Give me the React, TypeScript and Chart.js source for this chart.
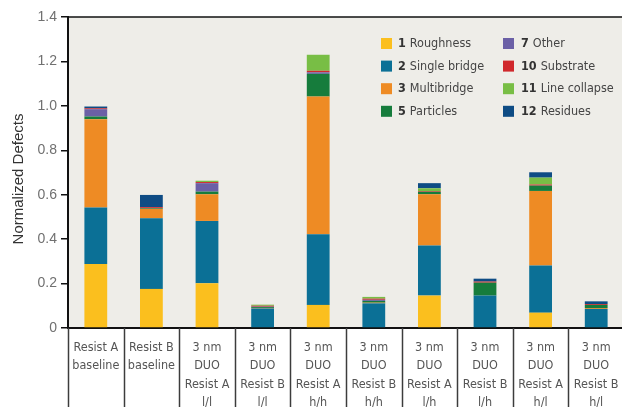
import React, { useEffect, useRef } from 'react';
import { Chart, registerables } from 'chart.js';
Chart.register(...registerables);

const categories: string[][] = [
  ['Resist A', 'baseline'],
  ['Resist B', 'baseline'],
  ['3 nm', 'DUO', 'Resist A', 'l/l'],
  ['3 nm', 'DUO', 'Resist B', 'l/l'],
  ['3 nm', 'DUO', 'Resist A', 'h/h'],
  ['3 nm', 'DUO', 'Resist B', 'h/h'],
  ['3 nm', 'DUO', 'Resist A', 'l/h'],
  ['3 nm', 'DUO', 'Resist B', 'l/h'],
  ['3 nm', 'DUO', 'Resist A', 'h/l'],
  ['3 nm', 'DUO', 'Resist B', 'h/l'],
];

const roughness = [0.288, 0.176, 0.201, 0, 0.104, 0, 0.146, 0, 0.069, 0];
const singleBridge = [0.255, 0.318, 0.281, 0.088, 0.318, 0.111, 0.225, 0.146, 0.212, 0.086];
const multibridge = [0.397, 0.042, 0.12, 0.002, 0.62, 0.003, 0.231, 0, 0.336, 0.004];
const particles = [0.012, 0.003, 0.012, 0.004, 0.102, 0.008, 0.011, 0.058, 0.024, 0.014];
const other = [0.033, 0, 0.038, 0.002, 0.007, 0.005, 0, 0, 0, 0];
const substrate = [0.004, 0.005, 0.005, 0.004, 0.007, 0.005, 0.003, 0.005, 0.005, 0.004];
const lineCollapse = [0, 0, 0.006, 0.005, 0.072, 0.008, 0.013, 0, 0.031, 0];
const residues = [0.008, 0.055, 0, 0, 0, 0, 0.023, 0.013, 0.024, 0.012];

const seriesNumbers = ['1', '2', '3', '5', '7', '10', '11', '12'];
const seriesNames = ['Roughness', 'Single bridge', 'Multibridge', 'Particles', 'Other', 'Substrate', 'Line collapse', 'Residues'];
const seriesValues = [roughness, singleBridge, multibridge, particles, other, substrate, lineCollapse, residues];
const seriesColors = ['#FBBF1E', '#0B7096', '#EE8B24', '#167C3C', '#6B60A6', '#D0282C', '#78BE45', '#0E4C84'];

const yTicks = [0, 0.2, 0.4, 0.6, 0.8, 1.0, 1.2, 1.4];

const NARROW = '"DejaVu Sans Condensed", "Liberation Sans", sans-serif';
const REGULAR = '"Liberation Sans", Arial, sans-serif';

const bgPlugin = {
  id: 'bgPlugin',
  beforeDraw(chart: any) {
    const { ctx, chartArea } = chart;
    ctx.save();
    ctx.fillStyle = '#EEEDE8';
    ctx.fillRect(chartArea.left, chartArea.top, chartArea.right - chartArea.left, chartArea.bottom - chartArea.top);
    ctx.restore();
  },
};

const decorPlugin = {
  id: 'decorPlugin',
  afterDraw(chart: any) {
    const { ctx, chartArea } = chart;
    const xs = chart.scales.x;
    const h = chart.height;
    ctx.save();
    // top border
    ctx.strokeStyle = '#111';
    ctx.lineWidth = 1.6;
    ctx.beginPath();
    ctx.moveTo(chartArea.left, chartArea.top);
    ctx.lineTo(chartArea.right, chartArea.top);
    ctx.stroke();
    // table separators
    const n = categories.length;
    const step = xs.getPixelForValue(1) - xs.getPixelForValue(0);
    ctx.strokeStyle = '#3c3c3c';
    ctx.lineWidth = 1.5;
    for (let i = 0; i <= n; i++) {
      const x = Math.round(xs.getPixelForValue(0) - step / 2 + i * step) + 0.5;
      ctx.beginPath();
      ctx.moveTo(x, chartArea.bottom);
      ctx.lineTo(x, h);
      ctx.stroke();
    }
    // y title
    ctx.fillStyle = '#333';
    ctx.font = `15px ${REGULAR}`;
    ctx.textAlign = 'center';
    ctx.textBaseline = 'middle';
    ctx.translate(19, 179);
    ctx.rotate(-Math.PI / 2);
    ctx.fillText('Normalized Defects', 0, 0);
    ctx.restore();

    // legend
    ctx.save();
    ctx.textBaseline = 'middle';
    ctx.textAlign = 'left';
    const colX = [381, 503];
    const numX = [398, 521];
    for (let i = 0; i < seriesNames.length; i++) {
      const col = i < 4 ? 0 : 1;
      const row = i % 4;
      const cy = 43.5 + row * 22.6;
      ctx.fillStyle = seriesColors[i];
      ctx.fillRect(colX[col], cy - 5.5, 11, 11);
      ctx.font = `bold 12.5px ${NARROW}`;
      ctx.fillStyle = '#333';
      ctx.fillText(seriesNumbers[i], numX[col], cy + 0.5);
      const w = ctx.measureText(seriesNumbers[i]).width + 4;
      ctx.font = `12.5px ${NARROW}`;
      ctx.fillStyle = '#444';
      ctx.fillText(seriesNames[i], numX[col] + w, cy + 0.5);
    }
    ctx.restore();
  },
};

export default function App() {
  const ref = useRef<HTMLCanvasElement>(null);
  useEffect(() => {
    const canvas = ref.current!;
    const chart = new Chart(canvas, {
      type: 'bar',
      data: {
        labels: categories as any,
        datasets: seriesNames.map((name, i) => ({
          label: name,
          data: seriesValues[i],
          backgroundColor: seriesColors[i],
          borderWidth: 0,
          categoryPercentage: 1,
          barPercentage: 0.41,
        })),
      },
      options: {
        animation: false,
        responsive: false,
        devicePixelRatio: 1,
        layout: { padding: { top: 17, left: 0, right: 0, bottom: 0 } },
        plugins: { legend: { display: false }, tooltip: { enabled: false } },
        scales: {
          x: {
            stacked: true,
            grid: { display: false },
            border: { display: true, color: '#111', width: 2 },
            ticks: {
              autoSkip: false,
              maxRotation: 0,
              minRotation: 0,
              padding: 2,
              color: '#555',
              font: { family: NARROW, size: 12.5, lineHeight: '18.5px' },
            },
            afterFit: (s: any) => { s.height = 79; },
          },
          y: {
            stacked: true,
            min: 0,
            max: 1.4,
            afterBuildTicks: (s: any) => { s.ticks = yTicks.map((v) => ({ value: v })); },
            grid: { display: true, drawOnChartArea: false, drawTicks: true, tickLength: 7, color: '#111', lineWidth: 1.5 },
            border: { display: true, color: '#111', width: 2 },
            ticks: {
              padding: 4,
              color: '#707070',
              font: { family: REGULAR, size: 14 },
              callback: (v: any) => (Number(v) === 0 ? '0' : Number(v).toFixed(1)),
            },
            afterFit: (s: any) => { s.width = 68; },
          },
        },
      },
      plugins: [bgPlugin, decorPlugin],
    });
    return () => chart.destroy();
  }, []);
  return (
    <div style={{ position: 'absolute', left: 0, top: 0, width: 622, height: 407, overflow: 'hidden', background: '#fff' }}>
      <canvas ref={ref} width={624} height={407} style={{ display: 'block' }} />
    </div>
  );
}
